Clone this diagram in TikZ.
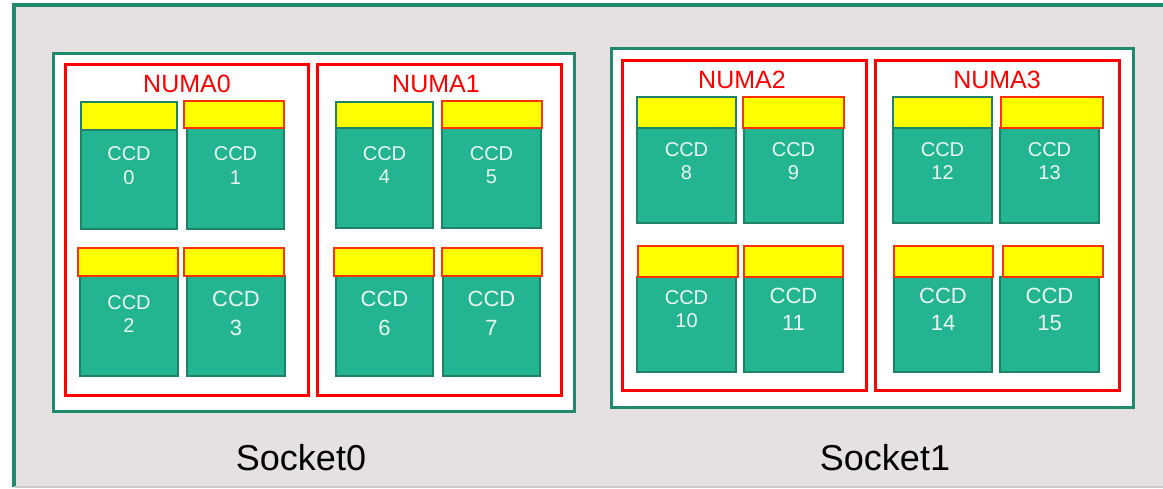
\documentclass[tikz,border=0pt]{standalone}
\usepackage{fontspec}
\setmainfont{Liberation Sans}

\definecolor{panelGrey}{RGB}{230,225,225}
\definecolor{panelEdge}{RGB}{200,200,200}
\definecolor{frameGreen}{RGB}{31,138,110}
\definecolor{bodyFill}{RGB}{35,181,146}
\definecolor{bodyEdge}{RGB}{30,131,102}
\definecolor{capYellow}{RGB}{255,255,0}
\definecolor{capRed}{RGB}{255,51,0}
\definecolor{numaRed}{RGB}{255,0,0}
\definecolor{labelWhite}{RGB}{236,247,242}

% rectangle node spanning (x1,y1)-(x2,y2)
\newcommand\boxat[6]{%
  \node[boxnode,#2,minimum width={(#5-#3)*1pt},minimum height={(#6-#4)*1pt}]
    (#1) at ({(#3+#5)/2},{(#4+#6)/2}) {};}

% one CCD: cap (yellow bar) above the green body
% #1 id, #2 cap style, #3-#6 cap left/top/right/bottom, #7-#9 body left/right/bottom
\newcommand\ccdunit[9]{%
  \boxat{ccd#1}{ccdbody}{#7}{#6}{#8}{#9}
  \boxat{cap#1}{#2}{#3}{#4}{#5}{#6}}

% two-line CCD label: #1 id, #2-#3 body left/right, #4-#5 baselines, #6 font size
\newcommand\ccdlabel[6]{%
  \node[ccdtext,font=\fontsize{#6}{#6}\selectfont] (lab#1a) at ({(#2+#3)/2},#4) {CCD};
  \node[ccdtext,font=\fontsize{#6}{#6}\selectfont] (lab#1b) at ({(#2+#3)/2},#5) {#1};}

\begin{document}
\begin{tikzpicture}[x=1pt,y=-1pt,
  boxnode/.style={rectangle,inner sep=0pt,outer sep=0pt},
  socketbox/.style={draw=frameGreen,fill=white,line width=3pt},
  numabox/.style={draw=numaRed,line width=3pt},
  ccdbody/.style={draw=bodyEdge,fill=bodyFill,line width=2.5pt},
  capgreen/.style={draw=bodyEdge,fill=capYellow,line width=2.5pt},
  capred/.style={draw=capRed,fill=capYellow,line width=2.5pt},
  ccdtext/.style={anchor=base,inner sep=0pt,text=labelWhite},
  numatext/.style={anchor=base,inner sep=0pt,text=numaRed,font=\fontsize{25}{25}\selectfont},
  sockettext/.style={anchor=base,inner sep=0pt,text=black,font=\fontsize{36}{36}\selectfont}]
\useasboundingbox (0,0) rectangle (1163,488);

% background panel
\boxat{panel}{fill=panelGrey}{14}{5}{1163}{487}
\draw[frameGreen,line width=3.5pt] (panel.south west) -- (panel.north west) -- (panel.north east);
\draw[panelEdge,line width=1.2pt] (panel.south west) -- (panel.south east);

% sockets
\boxat{sock0}{socketbox}{53}{53}{574}{411}
\boxat{sock1}{socketbox}{611}{48}{1133}{407}

% NUMA domains
\boxat{numa0}{numabox}{65}{64}{308}{395}
\boxat{numa1}{numabox}{317}{64}{561}{395}
\boxat{numa2}{numabox}{622}{60}{866}{390}
\boxat{numa3}{numabox}{875}{60}{1119}{390}

\node[numatext] (numa0t) at (187,92) {NUMA0};
\node[numatext] (numa1t) at (436,92) {NUMA1};
\node[numatext] (numa2t) at (742,88) {NUMA2};
\node[numatext] (numa3t) at (997,88) {NUMA3};

% socket 0
\ccdunit{0}{capgreen}{81}{102}{177}{130}{81}{177}{229}
\ccdunit{1}{capred}{184}{101}{284}{128}{187}{284}{229}
\ccdunit{2}{capred}{78}{248}{178}{276}{80}{178}{376}
\ccdunit{3}{capred}{184}{248}{284}{276}{187}{285}{376}
\ccdunit{4}{capgreen}{336}{102}{433}{128}{336}{433}{228}
\ccdunit{5}{capred}{442}{101}{542}{128}{442}{541}{228}
\ccdunit{6}{capred}{334}{248}{434}{276}{336}{433}{376}
\ccdunit{7}{capred}{442}{248}{542}{276}{443}{540}{376}

% socket 1
\ccdunit{8}{capgreen}{637}{97}{736}{128}{637}{736}{223}
\ccdunit{9}{capred}{743}{97}{844}{128}{744}{843}{223}
\ccdunit{10}{capred}{638}{246}{738}{277}{637}{736}{372}
\ccdunit{11}{capred}{744}{246}{843}{277}{744}{843}{372}
\ccdunit{12}{capgreen}{893}{97}{992}{128}{893}{992}{223}
\ccdunit{13}{capred}{1001}{97}{1103}{128}{1000}{1099}{223}
\ccdunit{14}{capred}{894}{246}{993}{277}{894}{992}{372}
\ccdunit{15}{capred}{1003}{246}{1103}{277}{1000}{1099}{372}

% CCD labels
\ccdlabel{0}{81}{177}{160}{184}{20}
\ccdlabel{1}{187}{284}{160}{184}{20}
\ccdlabel{2}{80}{178}{309}{332}{20}
\ccdlabel{3}{187}{285}{306}{335}{22}
\ccdlabel{4}{336}{433}{160}{183}{20}
\ccdlabel{5}{442}{541}{160}{183}{20}
\ccdlabel{6}{336}{433}{306}{335}{22}
\ccdlabel{7}{443}{540}{306}{335}{22}
\ccdlabel{8}{637}{736}{156}{179}{20}
\ccdlabel{9}{744}{843}{156}{179}{20}
\ccdlabel{10}{637}{736}{304}{327}{20}
\ccdlabel{11}{744}{843}{303}{330}{22}
\ccdlabel{12}{893}{992}{156}{179}{20}
\ccdlabel{13}{1000}{1099}{156}{179}{20}
\ccdlabel{14}{894}{992}{303}{330}{22}
\ccdlabel{15}{1000}{1099}{303}{330}{22}

% socket names
\node[sockettext] (sock0t) at (301,470) {Socket0};
\node[sockettext] (sock1t) at (885,470) {Socket1};
\end{tikzpicture}
\end{document}
